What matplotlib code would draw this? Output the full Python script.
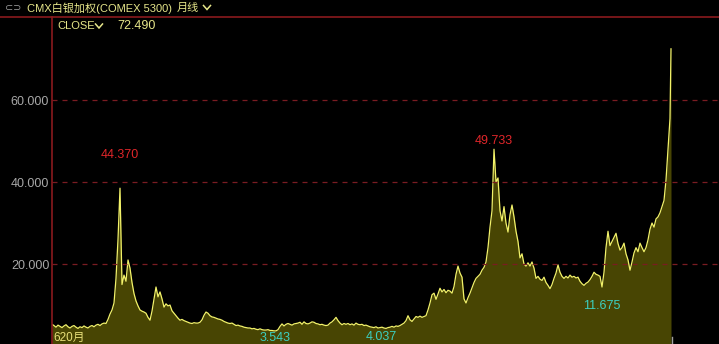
import numpy as np
import matplotlib
matplotlib.use("Agg")
import matplotlib.pyplot as plt

plt.rcParams['font.family'] = ['Liberation Sans', 'Noto Sans CJK SC', 'DejaVu Sans']

# monthly close, one value every 2 months starting 1974-05
close_vals = [
    5.3, 5.0, 4.6, 5.1, 4.8, 4.5, 4.9, 5.2, 4.7, 4.4, 4.8, 5.0, 4.6, 4.3, 4.7, 4.5, 4.9, 4.6, 4.4, 4.8, 5.0, 4.7,
    5.1, 5.3, 5.0, 5.4, 5.6, 5.5,
    6.5, 7.8, 8.8, 10.5, 16.5, 26.0,
    38.5, 15.0, 17.3, 15.8, 21.0, 19.0, 15.5, 12.8, 11.0, 9.8, 8.8, 8.5, 8.3, 8.0, 7.0, 6.3,
    8.5, 11.5, 14.4, 12.0, 13.2, 11.5, 9.5, 10.3, 9.8, 10.0, 8.6, 8.0, 7.4, 6.8, 6.3, 6.5, 6.2, 6.0, 5.8, 5.6, 5.5, 5.7, 5.6, 5.6, 5.8,
    6.4, 7.5, 8.3, 8.0, 7.4, 7.1, 7.0, 6.8, 6.6, 6.5, 6.3, 6.0, 5.8, 5.6, 5.5, 5.6, 5.3, 5.0, 5.1, 4.9, 4.8, 4.6, 4.5, 4.4, 4.4,
    4.2, 4.3, 4.1, 4.0, 4.2, 4.0, 3.9, 3.9, 4.0, 3.8, 3.8, 3.7, 3.7, 4.0, 4.8, 5.4, 4.9, 5.3, 5.5, 5.3, 5.1, 5.4, 5.5, 5.6, 5.8,
    5.3, 5.9, 5.5, 5.4, 5.6, 5.9, 5.8, 5.5, 5.4, 5.2, 5.3, 5.1, 5.0, 5.1, 5.6, 5.9, 6.4, 7.0, 6.2, 5.6, 5.2, 5.5, 5.3, 5.5, 5.2,
    5.4, 5.1, 5.6, 5.3, 5.2, 5.3, 5.0, 5.1, 4.9, 4.7, 4.6, 4.5, 4.7, 4.4, 4.5, 4.6, 4.4, 4.3, 4.5, 4.6, 4.8, 4.6, 4.9, 4.8, 5.0,
    5.3, 5.6, 6.2, 7.4, 6.4, 6.0, 6.6, 7.2, 7.0, 7.3, 7.0, 7.2, 7.4, 8.8, 10.5, 12.5, 12.9, 11.4, 12.7, 14.1, 13.2, 13.8, 13.0, 13.6, 13.4,
    12.9, 14.5, 17.5, 19.5, 17.8, 16.8, 11.5, 10.5, 11.8, 12.9, 14.2, 15.5, 16.5, 17.0, 17.5, 18.5, 19.2, 20.5, 24.0, 29.0, 33.0, 48.0, 40.0, 41.0, 33.0,
    30.5, 34.0, 30.0, 27.8, 32.0, 34.4, 31.5, 28.0, 25.5, 21.5, 22.5, 20.0, 19.5, 20.3, 19.5, 20.5, 19.0, 16.5, 17.0, 16.3, 16.0, 16.8, 15.5, 14.8, 14.0,
    15.0, 16.5, 17.8, 19.8, 18.0, 17.0, 16.5, 17.0, 16.6, 17.3, 16.8, 17.0, 16.6, 16.8, 15.8, 15.2, 14.8, 15.3, 15.6, 16.2, 17.0, 18.0, 17.5, 17.3, 17.0,
    14.4, 18.0, 24.0, 28.0, 24.5, 25.5, 26.5, 27.5, 25.0, 23.4, 24.0, 25.1, 22.5, 21.0, 18.5, 20.5, 22.7, 24.0, 23.0, 25.1, 24.0, 23.0, 24.0, 25.9, 28.5,
    30.0, 29.0, 31.0, 31.5, 32.5, 34.0, 35.5, 40.5, 48.0, 55.5,
]
last_close = 72.49

y_ticks = [20, 40, 60]
y_tick_labels = ['20.000', '40.000', '60.000']

high_labels = ['44.370', '49.733']
high_months = [68, 442]
low_labels = ['3.543', '4.037', '11.675']
low_months = [223, 329, 550]

title_text = 'CMX白银加权(COMEX 5300)'
period_text = '月线'
field_text = 'CLOSE'
last_text = '72.490'
bar_count_text = '620月'

x = list(np.arange(len(close_vals)) * 2) + [len(close_vals) * 2 - 1]
y = close_vals + [last_close]

W, H = 719, 344
fig = plt.figure(figsize=(W / 100, H / 100), dpi=100, facecolor='black')

def px(xp, yp):
    # pixel position from top-left -> figure fraction
    return xp / W, 1 - yp / H

def chevron(xc, yc, color):
    xs = [xc - 3.5, xc, xc + 3.5]
    ys = [yc - 2, yc + 2, yc - 2]
    fig.add_artist(plt.Line2D([v / W for v in xs], [1 - v / H for v in ys],
                              color=color, lw=1.1, solid_joinstyle='miter'))

# plot area: x 52..719 px, y 17..344 px
ax = fig.add_axes([52 / W, 0, 1 - 52 / W, 1 - 17 / H])
ax.set_facecolor('black')
ax.fill_between(x, y, 0, color='#484503', lw=0)
ax.plot(x, y, color='#f2f26a', lw=0.9)
ax.set_xlim(0, 667)
ax.set_ylim(0.5, 80.25)

for t in y_ticks:
    ax.axhline(t, color='#7a1c22', lw=0.9, ls=(0, (4, 4)))
ax.set_yticks(y_ticks)
ax.set_yticklabels(y_tick_labels, color='#a8a8a8', fontsize=9)
ax.tick_params(axis='y', length=0, pad=2)
ax.set_xticks([])
for s in ['top', 'right', 'bottom']:
    ax.spines[s].set_visible(False)
ax.spines['left'].set_color('#8a1a1e')
ax.spines['left'].set_linewidth(1.2)

# small gray marker under the last bar
ax.plot([x[-1] + 0.5, x[-1] + 0.5], [0.5, 2.2], color='#a0a0a0', lw=1)

hi_off = [8, 2]
for lab, m, dy in zip(high_labels, high_months, hi_off):
    ax.text(m, y[m // 2] + dy, lab, color='#e0262a', fontsize=9, ha='center', va='center')
lo_pos = [2.0, 2.2, 9.8]
for lab, m, yy in zip(low_labels, low_months, lo_pos):
    ax.text(m, yy, lab, color='#3ccfc0', fontsize=9, ha='center', va='center')

ax.text(1, 2.0, bar_count_text, color='#e8e07a', fontsize=8.5, ha='left', va='center')

# header
fig.add_artist(plt.Line2D([0, 1], [1 - 17 / H, 1 - 17 / H], color='#8a1a1e', lw=1.2))
fig.text(*px(5, 8), '⊂⊃', color='#9a9a9a', fontsize=7, ha='left', va='center',
         family=['DejaVu Sans'])
fig.text(*px(27, 8), title_text, color='#e6e68a', fontsize=8, ha='left', va='center')
fig.text(*px(177, 8), period_text, color='#e6e68a', fontsize=8, ha='left', va='center')
chevron(207, 7.5, '#e6e68a')
fig.text(*px(57, 26), field_text, color='#e6e68a', fontsize=8, ha='left', va='center')
chevron(99, 26, '#e6e68a')
fig.text(*px(117, 26), last_text, color='#e6e68a', fontsize=9, ha='left', va='center')

fig.savefig('out.png', dpi=100, facecolor='black')
